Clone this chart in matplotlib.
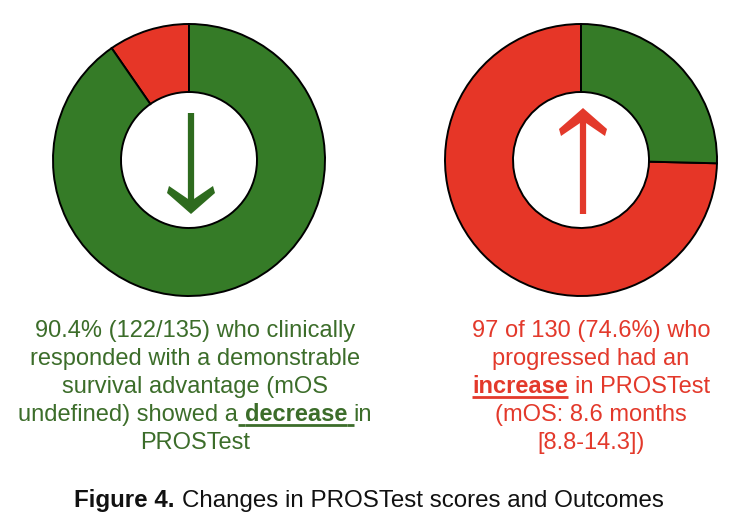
import matplotlib
matplotlib.use('Agg')
import matplotlib.pyplot as plt
from matplotlib.patches import Polygon

W, H = 733, 519

# data
left_counts = [13, 122]      # red (increase), green (decrease)
right_counts = [97, 33]      # red (increase), green (decrease)

left_lines = ["90.4% (122/135) who clinically",
              "responded with a demonstrable",
              "survival advantage (mOS",
              [("undefined) showed a", False, False), (" ", False, True),
               ("decrease", True, True), (" ", False, True), ("in", False, False)],
              "PROSTest"]
right_lines = ["97 of 130 (74.6%) who",
               "progressed had an",
               [("increase", True, True), (" ", False, False), ("in PROSTest", False, False)],
               "(mOS: 8.6 months",
               "[8.8-14.3])"]
caption = [("Figure 4.", True, False), (" ", False, False),
           ("Changes in PROSTest scores and Outcomes", False, False)]

GREEN = '#357B27'
RED = '#E63627'
ARROW_GREEN = '#2E6B1E'
TEXT_GREEN = '#3C6D2A'
TEXT_RED = '#E3392B'
FONT = 'Liberation Sans'
FS = 17

fig = plt.figure(figsize=(W / 100, H / 100), dpi=100)
ax = fig.add_axes([0, 0, 1, 1])

# donuts (pixel layout, y measured from top)
R = 136
for counts, cx in [(left_counts, 189), (right_counts, 581)]:
    ax.pie(counts, colors=[RED, GREEN], startangle=90, counterclock=True,
           radius=R, center=(cx, H - 160),
           wedgeprops=dict(width=R / 2, edgecolor='black', linewidth=1.4))

ax.set_xlim(0, W)
ax.set_ylim(0, H)
ax.set_aspect('auto')
ax.axis('off')


def arrow(x, y0, y1, color, down):
    # shaft
    ax.plot([x, x], [H - y0, H - y1 + (8 if down else -8)], color=color, lw=4.5,
            solid_capstyle='butt')
    tip = y1
    s = 1 if down else -1
    pts = [(0, 0), (-24, -21), (-22, -28), (0, -13), (22, -28), (24, -21)]
    poly = [(x + dx, H - (tip + s * dy)) for dx, dy in pts]
    ax.add_patch(Polygon(poly, closed=True, color=color, lw=0))


arrow(191, 113, 214, ARROW_GREEN, True)
arrow(583, 214, 108, TEXT_RED, False)

r = fig.canvas.get_renderer()


def width_of(txt, bold, fs):
    t = ax.text(0, 0, txt, fontsize=fs, family=FONT,
                fontweight='bold' if bold else 'normal')
    w = t.get_window_extent(r).width
    t.remove()
    return w


def draw_line(pieces, cx, base, color, fs=FS):
    if isinstance(pieces, str):
        pieces = [(pieces, False, False)]
    space_w = width_of("x x", False, fs) - width_of("xx", False, fs)
    widths = [space_w if p[0] == " " else width_of(p[0], p[1], fs) for p in pieces]
    x = cx - sum(widths) / 2
    y = H - base
    for (txt, bold, ul), w in zip(pieces, widths):
        if txt.strip():
            ax.text(x, y, txt, fontsize=fs, family=FONT, color=color,
                    fontweight='bold' if bold else 'normal',
                    ha='left', va='baseline')
        if ul:
            ax.plot([x, x + w], [y - 4, y - 4], color=color, lw=2, solid_capstyle='butt')
        x += w


baselines = [337, 365, 393, 421, 449]
for line, b in zip(left_lines, baselines):
    draw_line(line, 195, b, TEXT_GREEN)
for line, b in zip(right_lines, baselines):
    draw_line(line, 591, b, TEXT_RED)

draw_line(caption, 369, 507, '#111111', fs=17.4)

fig.savefig('out.png', dpi=100, facecolor='white')
